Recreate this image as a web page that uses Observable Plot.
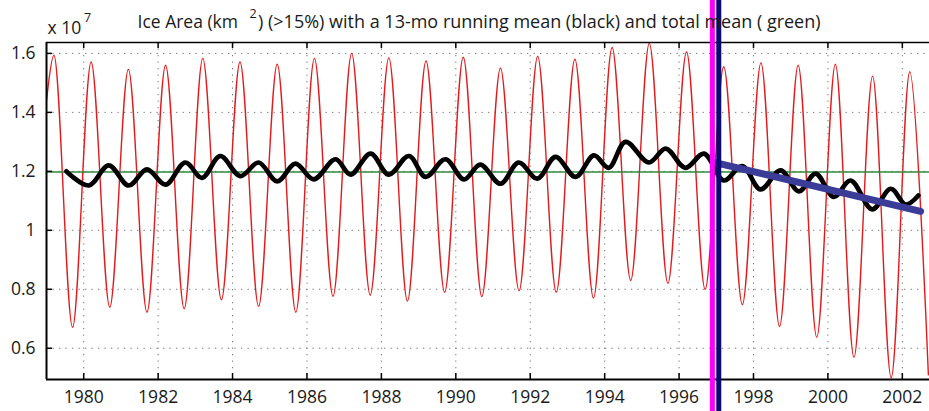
<!DOCTYPE html>
<html><head><meta charset="utf-8">
<script src="https://cdn.jsdelivr.net/npm/d3@7"></script>
<script src="https://cdn.jsdelivr.net/npm/@observablehq/plot@0.6"></script>
<style>body{margin:0;background:#fff;} svg{display:block}</style>
</head><body><div id="chart"></div>
<script>
// ---- data ----
const years = [1979,1980,1981,1982,1983,1984,1985,1986,1987,1988,1989,1990,1991,1992,1993,1994,1995,1996,1997,1998,1999,2000,2001,2002];
const marchMax = [1.594,1.571,1.546,1.560,1.583,1.571,1.563,1.583,1.600,1.585,1.574,1.587,1.550,1.590,1.580,1.620,1.634,1.605,1.555,1.568,1.560,1.563,1.523,1.538];
const septMin  = [0.671,0.739,0.722,0.734,0.764,0.742,0.722,0.776,0.780,0.760,0.790,0.775,0.795,0.790,0.770,0.830,0.820,0.800,0.748,0.674,0.637,0.569,0.500,0.510];
const startTime = 1979.0, startValue = 1.44;
const maxOffset = 0.2, minOffset = 0.7; // March maximum, September minimum

const meanTime = [1979.535,1980.134,1980.672,1981.21,1981.70,1982.20,1982.73,1983.18,1983.67,1984.21,1984.70,1985.20,1985.69,1986.18,1986.77,1987.17,1987.71,1988.20,1988.74,1989.19,1989.72,1990.22,1990.66,1991.20,1991.69,1992.19,1992.68,1993.22,1993.71,1994.11,1994.56,1995.19,1995.64,1996.17,1996.67,1997.20,1997.70,1998.19,1998.73,1999.22,1999.67,2000.16,2000.61,2001.19,2001.69,2002.09,2002.43];
const meanValue = [1.200,1.152,1.220,1.152,1.207,1.155,1.230,1.178,1.252,1.184,1.230,1.166,1.226,1.173,1.241,1.189,1.260,1.189,1.252,1.181,1.241,1.173,1.223,1.158,1.230,1.175,1.249,1.181,1.254,1.212,1.300,1.230,1.277,1.212,1.260,1.169,1.218,1.139,1.203,1.132,1.192,1.113,1.169,1.071,1.141,1.087,1.118];

const totalMean = 1.198;
const trendTime = [1997.0, 2002.49];
const trendValue = [1.229, 1.064];
const magentaTime = 1996.895;
const navyTime = 1997.067;

const xTicks = [1980,1982,1984,1986,1988,1990,1992,1994,1996,1998,2000,2002];
const yTicks = [0.6,0.8,1,1.2,1.4,1.6];
const xDomain = [1979, 2002.73];
const yDomain = [0.494, 1.637];

const titleMain = "Ice Area (km";
const titleSup = "2";
const titleRest = ") (>15%) with a 13-mo running mean (black) and total mean ( green)";
const expBase = "x 10";
const expSup = "7";

// ---- build tables ----
const iceData = [{t: startTime, v: startValue}];
years.forEach((y, i) => {
  iceData.push({t: y + maxOffset, v: marchMax[i]});
  iceData.push({t: y + minOffset, v: septMin[i]});
});
const meanData = meanTime.map((t, i) => ({t, v: meanValue[i]}));
const trendData = trendTime.map((t, i) => ({t, v: trendValue[i]}));

const W = 929, H = 411, mL = 46, mR = 0, mT = 42, mB = 32;
const fw = W - mL - mR, fh = H - mT - mB;
const font = "'Open Sans', sans-serif";

const chart = Plot.plot({
  width: W, height: H,
  marginLeft: mL, marginRight: mR, marginTop: mT, marginBottom: mB,
  style: {fontFamily: font, fontSize: "17px", background: "#fff", color: "#1a1a1a", overflow: "visible"},
  x: {domain: xDomain, label: null},
  y: {domain: yDomain, label: null},
  marks: [
    Plot.gridX(xTicks, {stroke: "#777", strokeOpacity: 1, strokeWidth: 1, strokeDasharray: "1.3,5.2"}),
    Plot.gridY(yTicks, {stroke: "#777", strokeOpacity: 1, strokeWidth: 1, strokeDasharray: "1.3,5.2"}),
    Plot.line(iceData, {x: "t", y: "v", stroke: "#e31a1c", strokeWidth: 1.4, curve: "catmull-rom", clip: true}),
    Plot.ruleY([totalMean], {stroke: "#2e8b3c", strokeWidth: 1.6}),
    Plot.line(meanData, {x: "t", y: "v", stroke: "#000", strokeWidth: 4.7, curve: "catmull-rom", strokeLinecap: "round", strokeLinejoin: "round"}),
    Plot.line(trendData, {x: "t", y: "v", stroke: "#3b3b98", strokeWidth: 7, strokeLinecap: "round"}),
    // box
    Plot.ruleX([xDomain[0]], {stroke: "#000", strokeWidth: 2}),
    Plot.ruleY([yDomain[0]], {stroke: "#000", strokeWidth: 2}),
    Plot.ruleY([yDomain[1]], {stroke: "#000", strokeWidth: 1.4}),
    // inward ticks
    Plot.ruleX(xTicks, {x: d => d, stroke: "#000", strokeWidth: 1.5, insetTop: fh - 6}),
    Plot.ruleX(xTicks, {x: d => d, stroke: "#000", strokeWidth: 1.5, insetBottom: fh - 6}),
    Plot.ruleY(yTicks, {y: d => d, stroke: "#000", strokeWidth: 1.5, insetRight: fw - 6}),
    Plot.axisX(xTicks, {tickSize: 0, tickPadding: 11, tickFormat: d => String(d), fontSize: 17.5, fill: "#1a1a1a"}),
    Plot.axisY(yTicks, {tickSize: 0, tickPadding: 11, tickFormat: d => String(d), fontSize: 17.5, fill: "#1a1a1a"}),
    // vertical markers
    Plot.ruleX([magentaTime], {stroke: "#ff00ff", strokeWidth: 5, insetTop: -mT, insetBottom: -mB}),
    Plot.ruleX([navyTime], {stroke: "#0c0c70", strokeWidth: 5, insetTop: -mT, insetBottom: -mB}),
    // title & exponent
    Plot.text([expBase], {text: d => d, frameAnchor: "top-left", dx: 1, dy: -8.7, lineAnchor: "bottom", textAnchor: "start", fontSize: 17.5, fill: "#1a1a1a"}),
    Plot.text([expSup], {text: d => d, frameAnchor: "top-left", dx: 37.5, dy: -20.5, lineAnchor: "bottom", textAnchor: "start", fontSize: 12.5, fill: "#1a1a1a"}),
    Plot.text([titleMain], {text: d => d, frameAnchor: "top-left", dx: 91, dy: -14.7, lineAnchor: "bottom", textAnchor: "start", fontSize: 17.5, fill: "#1a1a1a"}),
    Plot.text([titleSup], {text: d => d, frameAnchor: "top-left", dx: 203, dy: -24.5, lineAnchor: "bottom", textAnchor: "start", fontSize: 12.5, fill: "#1a1a1a"}),
    Plot.text([titleRest], {text: d => d, frameAnchor: "top-left", dx: 211.5, dy: -14.7, lineAnchor: "bottom", textAnchor: "start", fontSize: 18, fill: "#1a1a1a"})
  ]
});
document.getElementById("chart").appendChild(chart);
</script>
</body></html>
